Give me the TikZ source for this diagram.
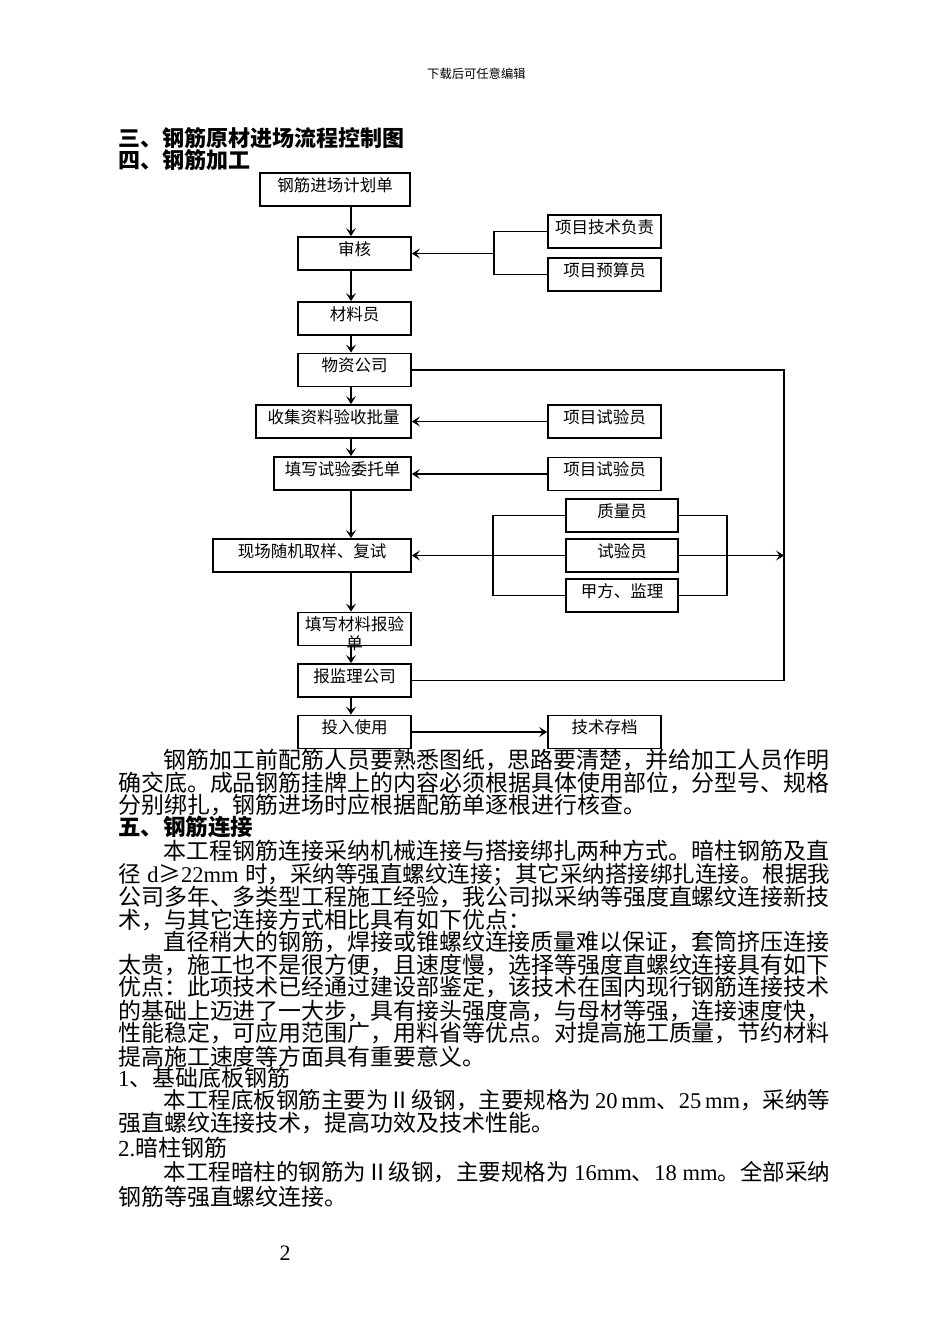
\documentclass[tikz,border=0pt]{standalone}
\usepackage{fontspec}
\setmainfont{Liberation Serif}
\newfontfamily\cjk{Noto Sans CJK SC}
\newfontfamily\lat{Liberation Serif}
\usetikzlibrary{arrows.meta}
\newcommand\jline[1]{\makebox[712pt][s]{#1}}
\newcommand\ind{\hspace*{45.5pt}}
\begin{document}
\begin{tikzpicture}[x=1pt,y=-1pt,
  box/.style={draw, line width=1.8pt, inner xsep=0pt, inner ysep=0pt,
    text height=18.3pt, text depth=14.7pt,
    font={\cjk\fontsize{16.5pt}{19pt}\selectfont}},
  ln/.style={line width=1.6pt},
  arr/.style={line width=1.6pt, -{Stealth[length=8pt,width=10pt,inset=3.5pt]}},
  body/.style={anchor=base west, inner sep=0pt,
    font={\cjk\fontsize{22.95pt}{27pt}\selectfont}},
  bodys/.style={anchor=base west, inner sep=0pt,
    font={\cjk\fontsize{22.5pt}{27pt}\selectfont}},
  ttl/.style={anchor=base west, inner sep=0pt,
    font={\cjk\bfseries\fontsize{22pt}{26pt}\selectfont}}]
\fill[white] (0,0) rectangle (950,1344);
\useasboundingbox (0,0) rectangle (950,1344);

% header and titles
\node[anchor=base west, inner sep=0pt, font={\cjk\fontsize{12.3pt}{14pt}\selectfont}] (hdr) at (427,78.7) {下载后可任意编辑};
\node[ttl] (h3) at (118,146.5) {三、钢筋原材进场流程控制图};
\node[ttl] (h4) at (118,168.5) {四、钢筋加工};

% main column
\node[box, minimum width=150pt] (b1) at (335,189.5) {钢筋进场计划单};
\node[box, minimum width=113pt] (b2) at (354.5,253.5) {审核};
\node[box, minimum width=113pt] (b3) at (354.5,318.5) {材料员};
\node[box, minimum width=113pt] (b4) at (354.5,370) {物资公司};
\node[box, minimum width=155pt] (b5) at (333.5,421.5) {收集资料验收批量};
\node[box, minimum width=137pt] (b6) at (342.5,473.5) {填写试验委托单};
\node[box, minimum width=198pt] (b7) at (312,555.5) {现场随机取样、复试};
\node[box, minimum width=113pt] (b8) at (354.5,629) {填写材料报验\llap{\makebox[6em]{\raisebox{-19pt}[0pt][0pt]{单}}}};
\node[box, minimum width=113pt] (b9) at (354.5,680.5) {报监理公司};
\node[box, minimum width=113pt] (b10) at (354.5,732) {投入使用};
\node[box, minimum width=113pt] (b11) at (604.5,732) {技术存档};

% right boxes
\node[box, minimum width=113pt] (r1) at (604.5,231.5) {项目技术负责};
\node[box, minimum width=113pt] (r2) at (604.5,274.5) {项目预算员};
\node[box, minimum width=113pt] (r3) at (604.5,421.5) {项目试验员};
\node[box, minimum width=113pt] (r4) at (604.5,474) {项目试验员};
\node[box, minimum width=112pt] (q1) at (622,515.5) {质量员};
\node[box, minimum width=112pt] (q2) at (622,555.5) {试验员};
\node[box, minimum width=112pt] (q3) at (622,595.5) {甲方、监理};

% helper coordinates
\coordinate (ax) at (351,0);
\coordinate (rt) at (784,0);
\coordinate (k1) at (494,253.5);
\coordinate (k2) at (493,555.5);
\coordinate (k3) at (727,555.5);

% connectors
\draw[arr] (b1.south -| ax) -- (b2.north -| ax);
\draw[arr] (b2.south -| ax) -- (b3.north -| ax);
\draw[arr] (b3.south -| ax) -- (b4.north -| ax);
\draw[arr] (b4.south -| ax) -- (b5.north -| ax);
\draw[arr] (b5.south -| ax) -- (b6.north -| ax);
\draw[arr] (b6.south -| ax) -- (b7.north -| ax);
\draw[arr] (b7.south -| ax) -- (b8.north -| ax);
\draw[arr] (b8.south -| ax) -- (b9.north -| ax);
\draw[arr] (b9.south -| ax) -- (b10.north -| ax);
\draw[ln] (r1.west) -| (k1) |- (r2.west);
\draw[arr] (k1) -- (b2.east);
\draw[arr] (r3.west) -- (b5.east);
\draw[arr] (r4.west) -- (b6.east |- r4.west);
\draw[ln] (q1.west) -| (k2) |- (q3.west);
\draw[arr] (q2.west) -- (b7.east);
\draw[ln] (q1.east) -| (k3) |- (q3.east);
\draw[arr] (q2.east) -- (q2.east -| rt);
\draw[ln] (b4.east) -- (b4.east -| rt) -- (b9.east -| rt) -- (b9.east);
\draw[arr] (b10.east) -- (b11.west);

% body text
\node[body] (t1) at (118,768.5) {\ind 钢筋加工前配筋人员要熟悉图纸，思路要清楚，并给加工人员作明};
\node[body] (t2) at (118,791.5) {确交底。成品钢筋挂牌上的内容必须根据具体使用部位，分型号、规格};
\node[body] (t3) at (118,813.5) {分别绑扎，钢筋进场时应根据配筋单逐根进行核查。};
\node[body, font={\cjk\bfseries\fontsize{22.5pt}{27pt}\selectfont}] (t4) at (118,835.5) {五、钢筋连接};
\node[body] (t5) at (118,859.5) {\ind 本工程钢筋连接采纳机械连接与搭接绑扎两种方式。暗柱钢筋及直};
\node[bodys] (t6) at (118,882.5) {\jline{径 {\lat d}≥{\lat 22mm} 时，采纳等强直螺纹连接；其它采纳搭接绑扎连接。根据我}};
\node[body] (t7) at (118,905.5) {公司多年、多类型工程施工经验，我公司拟采纳等强度直螺纹连接新技};
\node[body] (t8) at (118,928.5) {术，与其它连接方式相比具有如下优点：};
\node[body] (t9) at (118,950.5) {\ind 直径稍大的钢筋，焊接或锥螺纹连接质量难以保证，套筒挤压连接};
\node[body] (t10) at (118,973.5) {太贵，施工也不是很方便，且速度慢，选择等强度直螺纹连接具有如下};
\node[body] (t11) at (118,995.5) {优点：此项技术已经通过建设部鉴定，该技术在国内现行钢筋连接技术};
\node[body] (t12) at (118,1019.5) {的基础上迈进了一大步，具有接头强度高，与母材等强，连接速度快，};
\node[body] (t13) at (118,1041.5) {性能稳定，可应用范围广，用料省等优点。对提高施工质量，节约材料};
\node[body] (t14) at (118,1065.5) {提高施工速度等方面具有重要意义。};
\node[body] (t15) at (118,1086.5) {{\lat 1}、基础底板钢筋};
\node[bodys] (t16) at (118,1108.5) {\jline{\ind 本工程底板钢筋主要为Ⅱ级钢，主要规格为{\lat\ 20 mm}、{\lat 25 mm}，采纳等}};
\node[body] (t17) at (118,1131.5) {强直螺纹连接技术，提高功效及技术性能。};
\node[body] (t18) at (118,1156.5) {{\lat 2.}暗柱钢筋};
\node[bodys] (t19) at (118,1180.5) {\jline{\ind 本工程暗柱的钢筋为Ⅱ级钢，主要规格为{\lat\ 16mm}、{\lat 18 mm}。全部采纳}};
\node[body] (t20) at (118,1205.5) {钢筋等强直螺纹连接。};

% page number
\node[anchor=base, inner sep=0pt, font={\lat\fontsize{22pt}{26pt}\selectfont}] (pg) at (285,1260.5) {2};
\end{tikzpicture}
\end{document}
